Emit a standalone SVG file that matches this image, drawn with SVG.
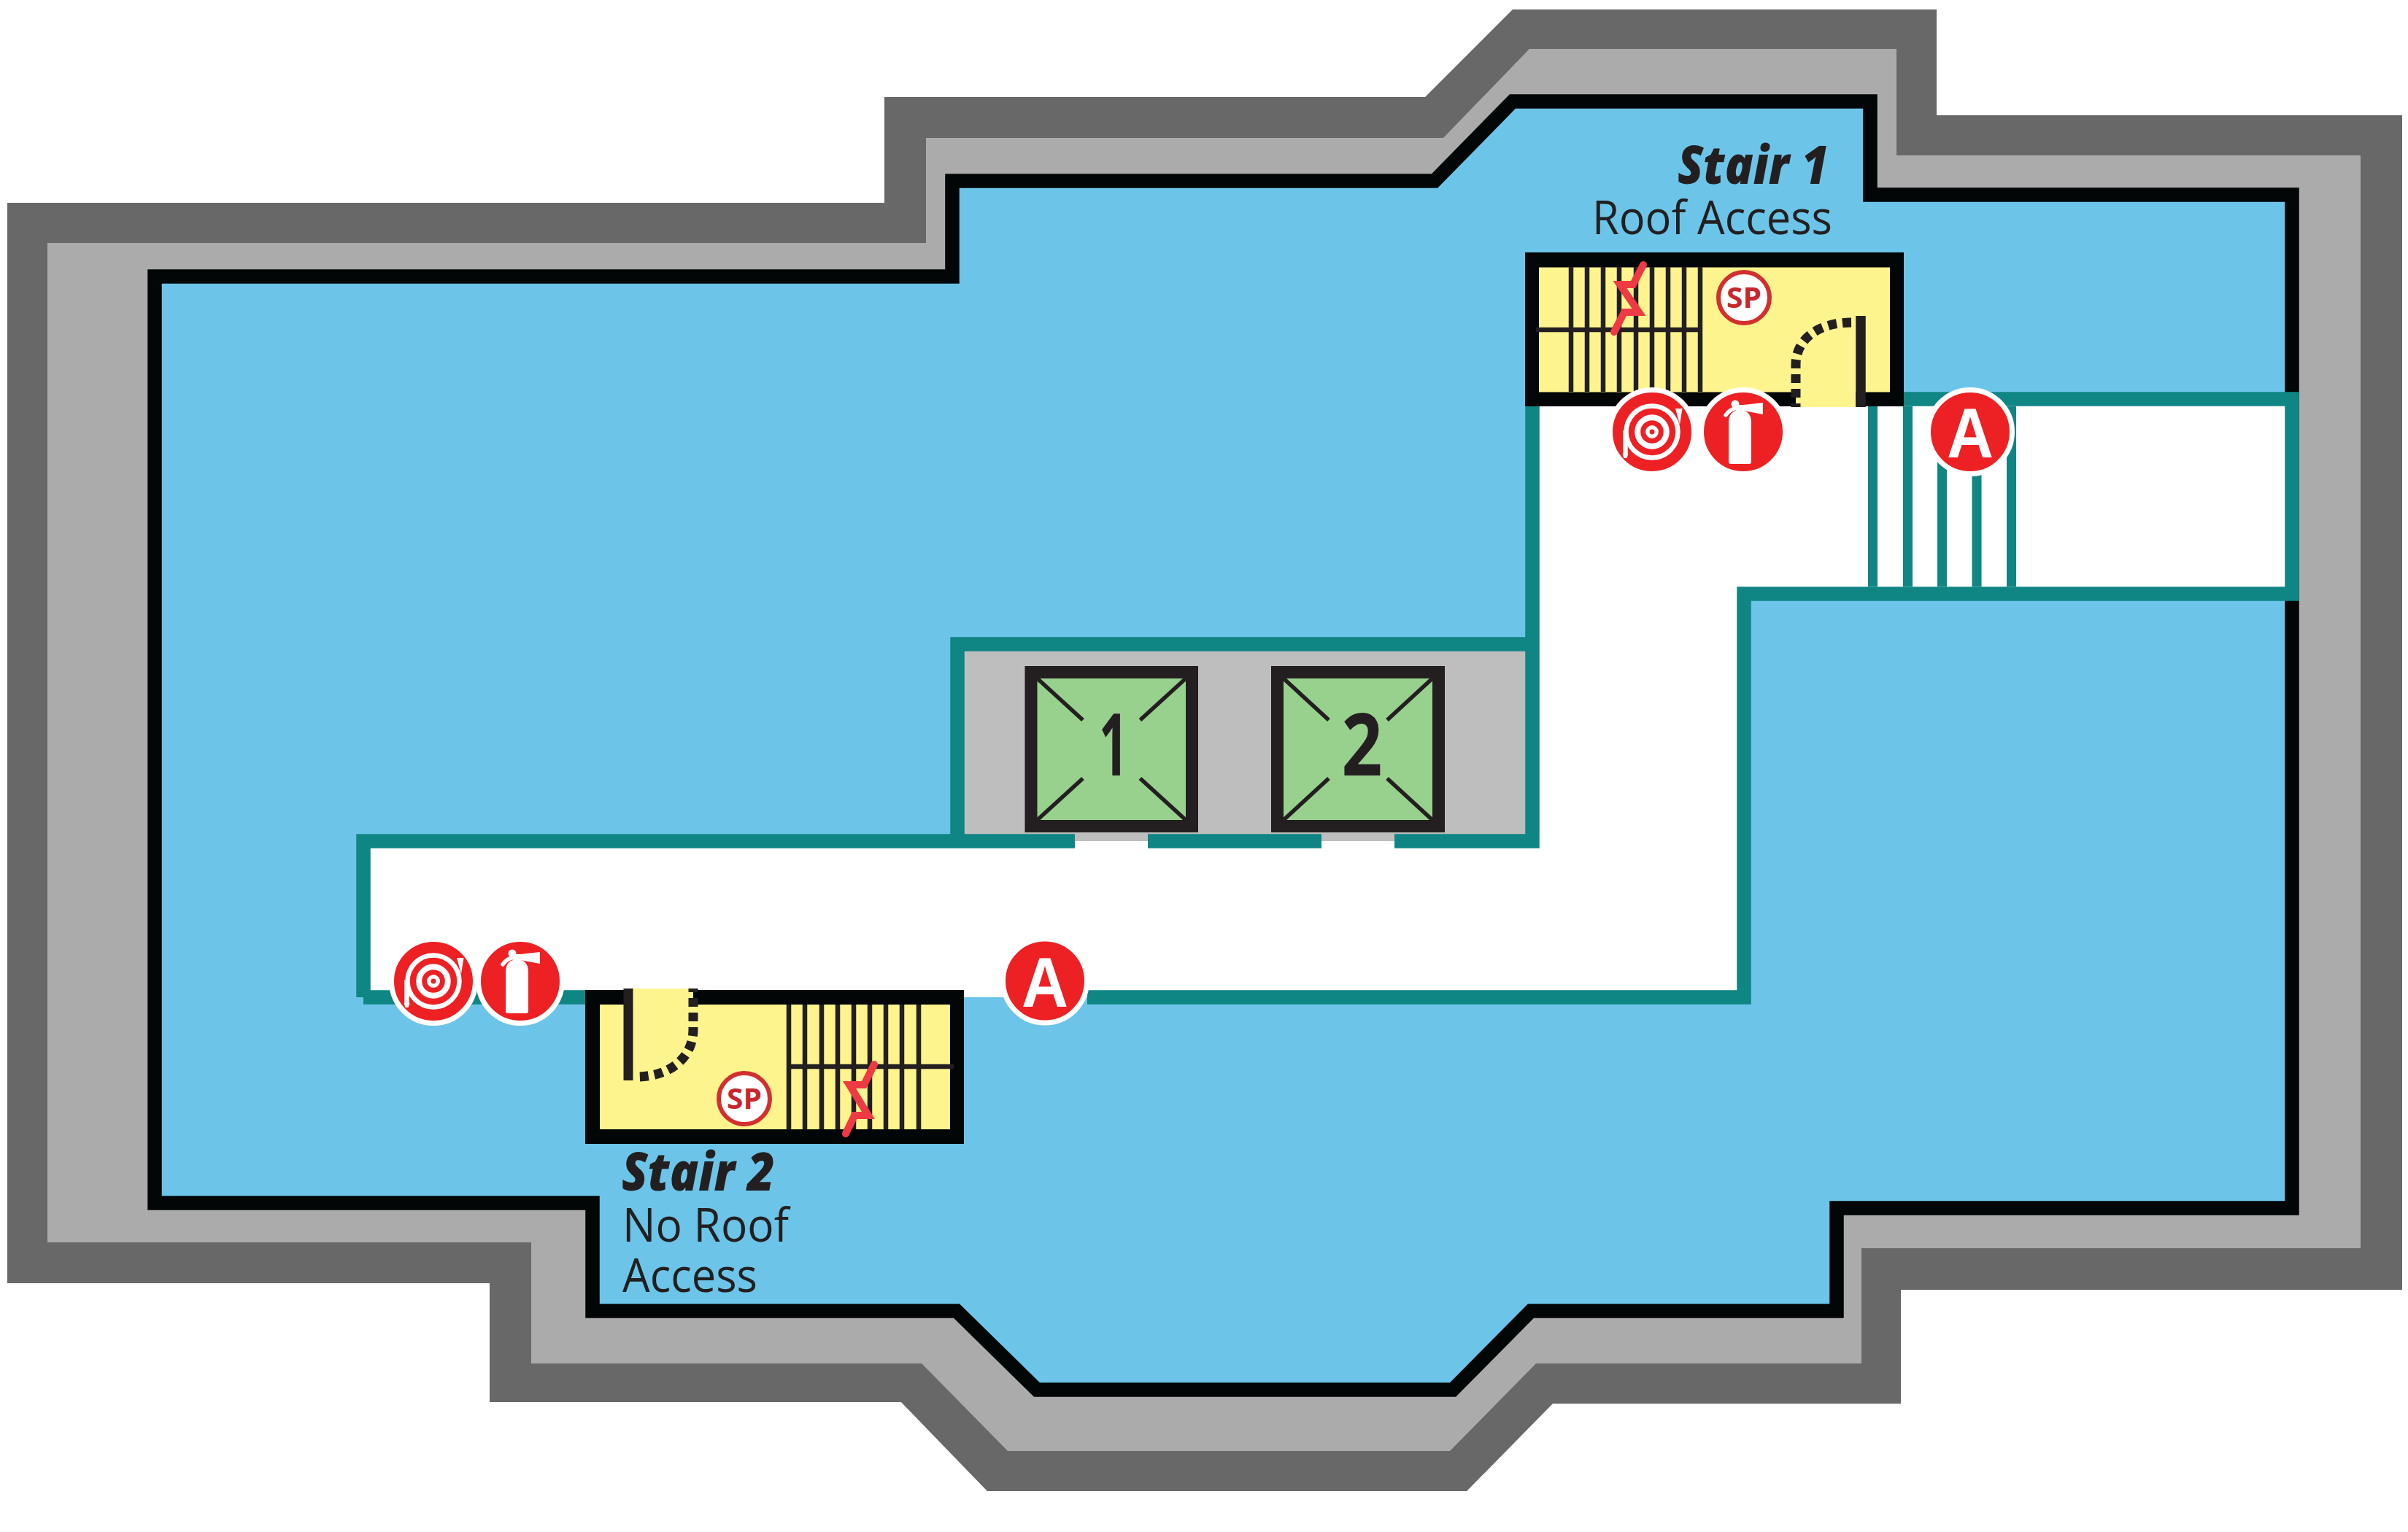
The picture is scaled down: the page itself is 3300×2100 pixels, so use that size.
<svg xmlns="http://www.w3.org/2000/svg" xmlns:xlink="http://www.w3.org/1999/xlink" width="3300" height="2100" viewBox="0 0 3300 2100">
<style>
.wall{fill:#6cc5e8;stroke:#020607;stroke-width:19.5;stroke-miterlimit:10}
.teal{fill:none;stroke:#0f8584;stroke-width:19.5;stroke-linecap:butt;stroke-linejoin:miter}
.rung{stroke:#0f8584;stroke-width:13}
.tread{stroke:#231f20;stroke-width:6.5}
.brk{fill:none;stroke:#ee3a43;stroke-width:10;stroke-linecap:round;stroke-linejoin:miter;stroke-miterlimit:10}
.door{fill:none;stroke:#231f20;stroke-width:13;stroke-dasharray:12 8;stroke-dashoffset:7}
.yel{fill:#fdf48e}
.blk{fill:#020607}
.cab{fill:#98d18d;stroke:#231f20}
.xl{stroke:#231f20;stroke-width:5.5}
.sp{fill:#fff;stroke:#d2302f;stroke-width:6}
.spt{font-family:"Open Sans","Liberation Sans",sans-serif;font-weight:700;font-size:39px;fill:#c8282d;text-anchor:middle}
.num{font-family:"Open Sans","Liberation Sans",sans-serif;font-weight:700;font-size:119px;fill:#231f20;text-anchor:middle}
.h{font-family:"Open Sans","Liberation Sans",sans-serif;font-weight:800;font-style:italic;font-size:72px;fill:#231f20}
.s{font-family:"Open Sans","Liberation Sans",sans-serif;font-weight:400;font-size:64px;fill:#231f20}
.ar{fill:#ed2024;stroke:#fff;stroke-width:7}
.at{font-family:"Liberation Sans",Arial,sans-serif;font-weight:700;font-size:97px;fill:#fff;text-anchor:middle}
.ws{fill:none;stroke:#fff}
</style>
<defs>
<g id="hose">
<circle class="ar" r="57.5"/>
<circle class="ws" r="35.5" stroke-width="6.5"/>
<circle class="ws" r="19.8" stroke-width="8"/>
<circle class="ws" r="6.2" stroke-width="5.5"/>
<path class="ws" stroke-width="6.5" d="M-36.5,31V-2"/>
<path fill="#fff" d="M32,-32H41.500L38,-10ZM-40.500,30H-32.500L-34.500,36H-38.500Z"/>
</g>
<g id="ext">
<circle class="ar" r="57.500"/>
<path fill="#fff" d="M-20,-13Q-20,-29 -4.500,-30Q11,-29 11,-13V41Q11,44 8,44H-17Q-20,44 -20,41Z"/>
<circle fill="#fff" cx="-11" cy="-38" r="5.500"/>
<path fill="none" stroke="#fff" stroke-width="5.500" stroke-linecap="round" d="M-24,-23Q-19,-31 -8,-33"/>
<path fill="#fff" d="M-10,-37H0L27,-40V-24L0,-29H-10Z"/>
</g>
</defs>
<g id="site">
<path fill="#686868" d="M10,278H1212V133H1953L2073,13H2654V158H3292V1768H2605V1924H2128L2010,2044H1353L1235,1922H671V1759H10Z"/>
<path fill="#ababab" d="M65,333H1269V189H1978L2096,67H2599V213H3235V1711H2551V1869H2105L1987,1989H1381L1263,1869H728V1703H65Z"/>
<path class="wall" d="M212,379H1305V248H1966L2073,139H2563V267H3141V1656H2517V1797H2098L1991,1905H1421L1311,1797H812V1649H212Z"/>
</g>
<g id="corridor">
<path fill="#fff" d="M498,1153H2100V547H3141V814H2390V1367H498Z"/>
<rect x="1312" y="883" width="787" height="270" fill="#bebebe"/>
<path class="teal" d="M498,1367V1153H1473M1573,1153H1811M1911,1153H2100V547H3141V814H2390V1367H1490M498,1367H820"/>
<path class="teal" d="M1312,1153V883H2100"/>
<path class="rung" d="M2566.500,557V804M2614.500,557V804M2661.500,557V804M2709,557V804M2756.500,557V804"/>
</g>
<g id="elevator-1">
<rect class="cab" x="1413" y="921.500" width="220.500" height="211" stroke-width="17"/>
<path class="xl" d="M1421.500,930L1484,987M1625,930L1562.500,987M1421.500,1124L1484,1067M1625,1124L1562.500,1067"/>
<text class="num" x="1526" y="1063" textLength="40" lengthAdjust="spacingAndGlyphs">1</text>
</g>
<g id="elevator-2">
<rect class="cab" x="1750.500" y="921.500" width="221" height="211" stroke-width="17"/>
<path class="xl" d="M1759,930L1821,987M1963,930L1901,987M1759,1124L1821,1067M1963,1124L1901,1067"/>
<text class="num" x="1866.500" y="1063" textLength="56" lengthAdjust="spacingAndGlyphs">2</text>
</g>
<g id="stair-1">
<rect class="blk" x="2090" y="346" width="519" height="211"/>
<rect class="yel" x="2109" y="366.500" width="481" height="171"/>
<rect class="yel" x="2461" y="537" width="82" height="21"/>
<path class="tread" d="M2153,366V537M2175,366V537M2197,366V537M2219,366V537M2242,366V537M2264,366V537M2286,366V537M2308,366V537M2330,366V537M2105,452H2333"/>
<path d="M2550,433V558" stroke="#231f20" stroke-width="13.500"/>
<path class="door" d="M2461,558V500C2461,466 2490,442 2538,442"/>
<path class="brk" d="M2252,363L2238,390H2220L2246,428H2226L2212,455"/>
<circle class="sp" cx="2390" cy="408" r="35"/>
<text class="spt" x="2390" y="422" textLength="48" lengthAdjust="spacingAndGlyphs">SP</text>
</g>
<g id="stair-2">
<rect class="blk" x="802" y="1357" width="519" height="211"/>
<rect class="yel" x="822" y="1377" width="480" height="171"/>
<rect class="yel" x="861" y="1355" width="89" height="23"/>
<path class="tread" d="M1081,1377V1548M1103,1377V1548M1126,1377V1548M1148,1377V1548M1170,1377V1548M1192,1377V1548M1214,1377V1548M1236,1377V1548M1259,1377V1548M1081,1462H1307"/>
<path d="M861,1355V1481" stroke="#231f20" stroke-width="13"/>
<path class="door" d="M950,1355V1411C950,1450 918,1476 872,1476"/>
<path class="brk" d="M1198,1459L1184,1487H1164L1190,1529H1171L1159,1554"/>
<circle class="sp" cx="1020" cy="1506" r="35"/>
<text class="spt" x="1020" y="1520" textLength="48" lengthAdjust="spacingAndGlyphs">SP</text>
</g>
<g id="labels">
<text class="h" x="2299" y="252" textLength="207" lengthAdjust="spacingAndGlyphs">Stair 1</text>
<text class="s" x="2182" y="320.500" textLength="329" lengthAdjust="spacingAndGlyphs">Roof Access</text>
<text class="h" x="852" y="1631.500" textLength="210" lengthAdjust="spacingAndGlyphs">Stair 2</text>
<text class="s" x="853" y="1701.500" textLength="228" lengthAdjust="spacingAndGlyphs">No Roof</text>
<text class="s" x="853" y="1770.500" textLength="185" lengthAdjust="spacingAndGlyphs">Access</text>
</g>
<g id="hose-1"><use href="#hose" x="2264" y="592"/></g>
<g id="extinguisher-1"><use href="#ext" x="2389" y="592"/></g>
<g id="alarm-1"><circle class="ar" cx="2700" cy="592" r="57.500"/><text class="at" x="2700" y="627" textLength="64" lengthAdjust="spacingAndGlyphs">A</text></g>
<g id="hose-2"><use href="#hose" x="594" y="1345"/></g>
<g id="extinguisher-2"><use href="#ext" x="713" y="1345"/></g>
<g id="alarm-2"><circle class="ar" cx="1432" cy="1344.500" r="57.500"/><text class="at" x="1432" y="1379.500" textLength="64" lengthAdjust="spacingAndGlyphs">A</text></g>
</svg>
